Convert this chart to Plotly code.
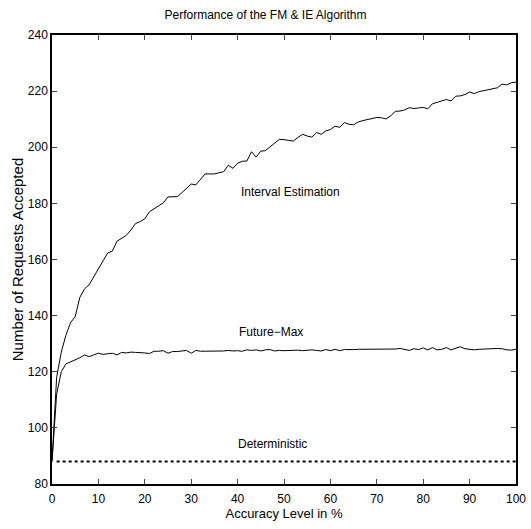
import plotly.graph_objects as go

accuracy = list(range(0, 101))

interval_estimation = [
    88, 118, 127, 133, 137.5, 139.6, 146.5, 149.5, 151, 154,
    156.5, 159.5, 162.3, 163, 166.5, 167.5, 168.6, 170.5, 172.8, 173.5,
    174.5, 177, 178, 179.2, 180.2, 182.3, 182.4, 182.4, 183.8, 185.5,
    186.9, 186.6, 188.5, 190.5, 190.5, 190.5, 190.9, 191.3, 193.6, 192.5,
    194.3, 195, 195.1, 198.4, 196.5, 198.6, 198.8, 200.2, 201.6, 202.8,
    202.7, 202.5, 202.2, 203.5, 204.6, 204, 203.6, 205.3, 204.6, 205.8,
    206.3, 207.5, 207.1, 208.8, 208.2, 208, 209, 209.5, 209.9, 210.2,
    210.6, 210.5, 210.1, 211.2, 212.8, 212.9, 213.3, 214.1, 213.8, 214,
    214.2, 213.7, 215.5, 216, 216.4, 217, 216.5, 218.2, 218.3, 218.8,
    219.7, 219.1, 219.8, 220.2, 220.6, 221, 221.2, 222.5, 222.2, 223,
    223.2,
]

future_max = [
    88, 112, 120, 122.8, 123.5, 124.2, 125, 126, 125.4, 126,
    126.6, 126.2, 126.4, 126.6, 126, 126.9, 126.7, 127, 126.9, 126.9,
    126.7, 126.5, 127.3, 127.3, 127.5, 126.6, 127.2, 127.2, 127.3, 127.6,
    126.6, 127.6, 127.3, 127.3, 127.2, 127.4, 127.2, 127.4, 127.6, 127.4,
    127.5, 127.3, 127.8, 127.6, 127.8, 127.4, 127.8, 127.9, 127.4, 127.6,
    127.5, 127.6, 127.7, 127.7, 127.5, 127.6, 127.8, 127.6, 127.4, 127.9,
    127.5, 128, 127.5, 127.9, 127.8, 127.9, 128, 128, 127.9, 128.1,
    128, 127.9, 128.1, 128, 128.1, 128.3, 127.9, 127.6, 128.2, 127.9,
    128.5, 127.8, 128.6, 127.8, 128, 128.6, 127.8, 128.4, 128.9, 128.2,
    127.9, 127.8, 128, 128.1, 128.1, 128.2, 128.3, 128.2, 127.8, 127.7,
    128,
]

det_x = list(range(1, 101))
deterministic = [88] * len(det_x)

labels = ["Interval Estimation", "Future\u2212Max", "Deterministic"]
label_x = [51.5, 47.2, 47.5]
label_y = [184, 134.0, 94.4]

x_ticks = list(range(0, 101, 10))
y_ticks = list(range(80, 241, 20))

fig = go.Figure()
fig.add_trace(go.Scatter(x=accuracy, y=interval_estimation, mode="lines",
                         line=dict(color="black", width=1), name=labels[0]))
fig.add_trace(go.Scatter(x=accuracy, y=future_max, mode="lines",
                         line=dict(color="black", width=1), name=labels[1]))
fig.add_trace(go.Scatter(x=det_x, y=deterministic, mode="lines",
                         line=dict(color="black", width=2, dash="dot"), name=labels[2]))

for t, xv, yv in zip(labels, label_x, label_y):
    fig.add_annotation(x=xv, y=yv, text=t, showarrow=False,
                       font=dict(family="Liberation Sans, Arial", size=12, color="black"))

fig.update_layout(
    width=531, height=529,
    margin=dict(l=52, r=15, t=35, b=45, autoexpand=False),
    paper_bgcolor="white", plot_bgcolor="white",
    showlegend=False,
    font=dict(family="Liberation Sans, Arial", size=12, color="black"),
    title=dict(text="Performance of the FM & IE Algorithm", x=0.5, xanchor="center",
               y=0.972, yanchor="middle", font=dict(size=12)),
)
fig.update_xaxes(range=[0, 100], tickvals=x_ticks, ticks="inside", ticklen=5,
                 showline=True, linecolor="black", linewidth=1.5, mirror="ticks",
                 showgrid=False, zeroline=False, automargin=False,
                 ticklabelstandoff=3,
                 title=dict(text="Accuracy Level in %", standoff=4, font=dict(size=13)))
fig.update_yaxes(range=[80, 240], tickvals=y_ticks, ticks="inside", ticklen=5,
                 showline=True, linecolor="black", linewidth=1.5, mirror="ticks",
                 showgrid=False, zeroline=False, automargin=False,
                 title=dict(text="Number of Requests Accepted", standoff=1, font=dict(size=15)))

fig.write_html("out.html")
